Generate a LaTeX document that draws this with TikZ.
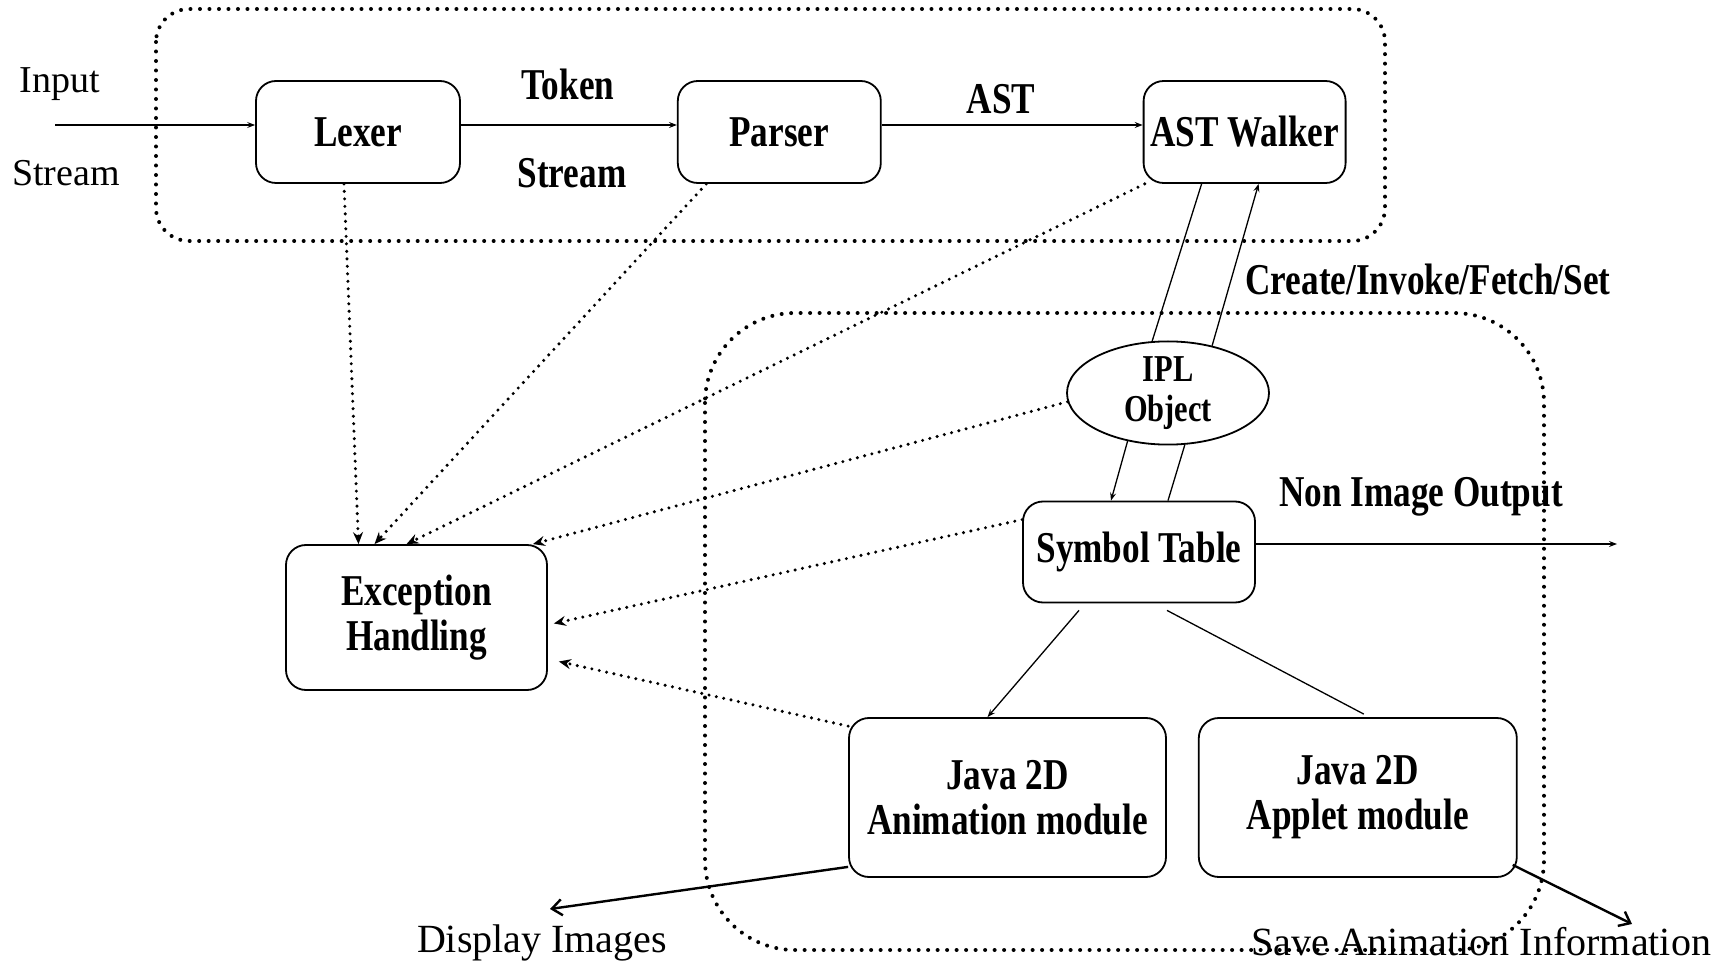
\documentclass[tikz,border=0pt]{standalone}
\usepackage{fontspec}
\setmainfont{Liberation Serif}
\newfontfamily\narrowbf{Liberation Serif}[FakeStretch=0.8]
\usepackage{tikz}
\usetikzlibrary{positioning, arrows.meta, shapes.geometric}

\begin{document}
\begin{tikzpicture}[x=1pt,y=-1pt,box/.style={draw, line width=1.8pt, rounded corners=20pt, align=center, inner sep=0pt, font=\narrowbf\bfseries\fontsize{44}{45}\selectfont},blbl/.style={inner sep=0pt, font=\narrowbf\bfseries\fontsize{44}{45}\selectfont},rlbl/.style={inner sep=0pt, font=\fontsize{38}{40}\selectfont},dlbl/.style={inner sep=0pt, font=\fontsize{40}{42}\selectfont},grp/.style={line width=4pt, dash pattern=on 0pt off 9.5pt, line cap=round, rounded corners=#1},arr/.style={-{Stealth[length=8pt,width=6pt,inset=3pt]}, line width=1.3pt},dotarr/.style={-{Stealth[length=12pt,width=10pt,inset=4pt]}, line width=3.4pt, dash pattern=on 0pt off 7.5pt, line cap=round},outarr/.style={-{Straight Barb[length=10pt,width=16pt]}, line width=2.4pt}]
\useasboundingbox (0,0) rectangle (1725,965);
\draw[grp=33pt] (156,9) rectangle (1385,241);
\draw[grp=90pt] (705,313) rectangle (1544,950);
\node[box, minimum width=204pt, minimum height=102pt] (lexer) at (358,132) {Lexer};
\node[box, minimum width=203pt, minimum height=102pt, right=216pt of lexer] (parser) {Parser};
\node[box, minimum width=202pt, minimum height=102pt, right=261pt of parser] (walker) {AST Walker};
\node[draw, ellipse, line width=1.8pt, minimum width=202pt, minimum height=100pt, inner sep=0pt, align=center, font=\narrowbf\bfseries\fontsize{38}{40}\selectfont] (ipl) at (1168,393) {IPL\\Object};
\node[box, minimum width=232pt, minimum height=101pt] (sym) at (1139,552) {Symbol Table};
\node[box, minimum width=261pt, minimum height=145pt] (exc) at (416.5,617.5) {Exception\\Handling};
\node[box, minimum width=317pt, minimum height=159pt] (anim) at (1007.5,797.5) {Java 2D\\Animation module};
\node[box, minimum width=318pt, minimum height=159pt, right=31pt of anim] (applet) {Java 2D\\Applet module};
\node[rlbl] (inlbl) at (60,84) {Input};
\node[rlbl] (inlbl2) at (66,173) {Stream};
\node[blbl] (toklbl) at (568,84) {Token};
\node[blbl] (toklbl2) at (572,173) {Stream};
\node[blbl] (astlbl) at (1001,99) {AST};
\node[blbl] (cifslbl) at (1428,279) {Create/Invoke/Fetch/Set};
\node[blbl] (niolbl) at (1421,497) {Non Image Output};
\node[dlbl] (displbl) at (542,943) {Display Images};
\node[dlbl] (savelbl) at (1481,942) {Save Animation Information};
\coordinate (instart) at (55,125); \coordinate (nioend) at (1617,544); \coordinate (dispend) at (550,909); \coordinate (saveend) at (1632,924);
\draw[arr] (instart)--([yshift=7pt]lexer.west); \draw[arr] ([yshift=7pt]lexer.east)--([yshift=7pt]parser.west); \draw[arr] ([yshift=7pt]parser.east)--([yshift=7pt]walker.west);
\draw[line width=1.3pt] ([xshift=-43pt]walker.south)--(ipl.107); \draw[arr] (ipl.47)--([xshift=14pt]walker.south);
\draw[arr] (ipl.230)--([xshift=-28pt]sym.north); \draw[line width=1.3pt] (ipl.-72)--([xshift=29pt]sym.north);
\draw[arr] ([yshift=8pt]sym.east)--(nioend);
\draw[arr] ([xshift=-60pt,yshift=-7pt]sym.south)--([xshift=-20pt]anim.north);
\draw[line width=1.3pt] ([xshift=28pt,yshift=-7pt]sym.south)--([xshift=6pt,yshift=3pt]applet.north);
% errors go to exception handling
\draw[dotarr] ([xshift=-14pt]lexer.south)--([xshift=-58pt]exc.north);
\draw[dotarr] ([xshift=-73pt]parser.south)--([xshift=-42pt]exc.north);
\draw[dotarr] ([xshift=2pt]walker.south west)--([xshift=-10pt]exc.north);
\draw[dotarr] (ipl.185)--([xshift=-15pt]exc.north east);
\draw[dotarr] ([yshift=-19pt]sym.north west)--([xshift=6pt,yshift=-6pt]exc.east);
\draw[dotarr] ([yshift=-9pt]anim.north west)--([xshift=11pt,yshift=-44pt]exc.east);
\draw[outarr] ([yshift=11pt]anim.south west)--(dispend);
\draw[outarr] ([xshift=-5pt,yshift=13pt]applet.south east)--(saveend);
\end{tikzpicture}
\end{document}
